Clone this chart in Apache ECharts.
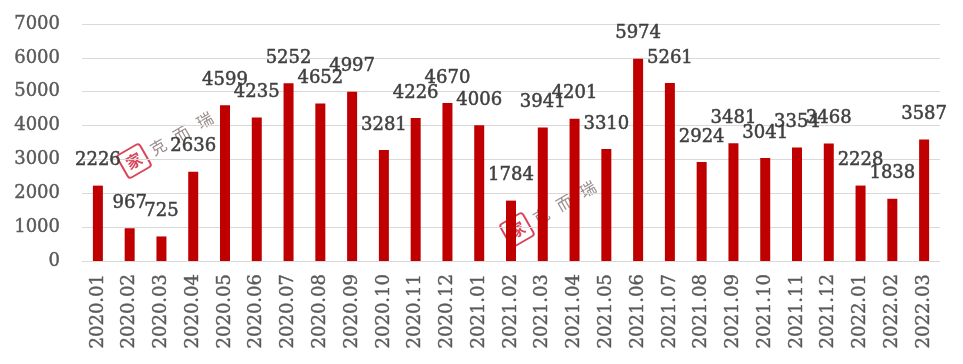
<!DOCTYPE html>
<html>
<head>
<meta charset="utf-8">
<script src="https://cdn.jsdelivr.net/npm/echarts@6/dist/echarts.min.js"></script>
<style>html,body{margin:0;padding:0;background:#fff}#c{width:963px;height:364px}</style>
</head>
<body>
<div id="c"></div>
<script>
var categories = ["2020.01","2020.02","2020.03","2020.04","2020.05","2020.06","2020.07","2020.08","2020.09","2020.10","2020.11","2020.12","2021.01","2021.02","2021.03","2021.04","2021.05","2021.06","2021.07","2021.08","2021.09","2021.10","2021.11","2021.12","2022.01","2022.02","2022.03"];
var values = [2226,967,725,2636,4599,4235,5252,4652,4997,3281,4226,4670,4006,1784,3941,4201,3310,5974,5261,2924,3481,3041,3354,3468,2228,1838,3587];
var yMin = 0, yMax = 7000, yInterval = 1000;

var serif = '"DejaVu Serif", "Liberation Serif", serif';
function watermark(x, y) {
  return {
    type: 'group', x: x, y: y, rotation: Math.PI / 6, silent: true, z: 100,
    children: [
      { type: 'rect', shape: { x: -13, y: -13, width: 26, height: 26, r: 3 },
        style: { fill: 'rgba(255,255,255,0.6)', stroke: '#d9455a', lineWidth: 2 } },
      { type: 'text', style: { x: 0, y: 0, text: '家', fill: '#d9455a', font: 'bold 16px "Noto Sans CJK SC"', align: 'center', verticalAlign: 'middle' } },
      { type: 'text', style: { x: 20, y: 0, text: '克   而   瑞', fill: '#9a8c8c', font: '16px "Noto Sans CJK SC"', align: 'left', verticalAlign: 'middle' } }
    ]
  };
}

var chart = echarts.init(document.getElementById('c'), null, { renderer: 'canvas' });
chart.setOption({
  animation: false,
  backgroundColor: '#ffffff',
  grid: { left: 82, right: 23, top: 24, bottom: 103, containLabel: false },
  xAxis: {
    type: 'category',
    data: categories,
    axisLine: { show: true, lineStyle: { color: '#d9d9d9', width: 1 } },
    axisTick: { show: false },
    axisLabel: { rotate: 90, margin: 13, color: '#595959', fontFamily: serif, fontSize: 18, interval: 0,
      textBorderColor: '#595959', textBorderWidth: 0.4 }
  },
  yAxis: {
    type: 'value',
    min: yMin, max: yMax, interval: yInterval,
    axisLine: { show: false },
    axisTick: { show: false },
    splitLine: { lineStyle: { color: '#d9d9d9', width: 1 } },
    axisLabel: { margin: 22, color: '#595959', fontFamily: serif, fontSize: 18, formatter: function (v) { return String(v); },
      textBorderColor: '#595959', textBorderWidth: 0.4 }
  },
  series: [{
    type: 'bar',
    data: values,
    barWidth: 10,
    itemStyle: { color: '#c00000' },
    label: { show: true, position: 'top', distance: 16, color: '#404040', fontFamily: serif, fontSize: 18,
      textBorderColor: '#404040', textBorderWidth: 0.5 }
  }],
  graphic: [ watermark(134, 161), watermark(517, 230) ]
});
</script>
</body>
</html>
